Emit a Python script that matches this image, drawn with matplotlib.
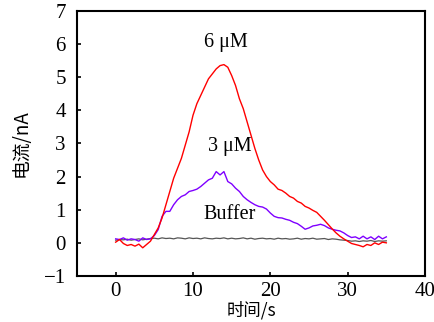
import numpy as np
import matplotlib
matplotlib.use("Agg")
import matplotlib.pyplot as plt

# time axis (s)
t = np.arange(0, 35.01, 0.5)

# current traces (nA)
red_6uM = [0.02, 0.10, -0.02, -0.08, -0.05, -0.10, -0.04, -0.15, -0.05, 0.05,
           0.25, 0.45, 0.75, 1.15, 1.55, 1.95, 2.25, 2.55, 2.95, 3.35,
           3.85, 4.20, 4.45, 4.70, 4.95, 5.10, 5.25, 5.35, 5.38, 5.30,
           5.05, 4.75, 4.35, 4.05, 3.65, 3.25, 2.85, 2.50, 2.20, 2.00,
           1.85, 1.75, 1.62, 1.58, 1.50, 1.40, 1.35, 1.25, 1.20, 1.10,
           1.05, 0.98, 0.92, 0.80, 0.68, 0.55, 0.42, 0.30, 0.20, 0.12,
           0.05, -0.02, -0.05, -0.08, -0.12, -0.05, -0.08, 0.00, -0.05, 0.02,
           0.00]

purple_3uM = [0.12, 0.10, 0.15, 0.08, 0.12, 0.10, 0.05, 0.15, 0.10, 0.12,
              0.22, 0.40, 0.80, 0.95, 0.95, 1.15, 1.30, 1.40, 1.45, 1.55,
              1.58, 1.62, 1.70, 1.80, 1.90, 1.95, 2.15, 2.05, 2.15, 1.85,
              1.78, 1.65, 1.55, 1.40, 1.30, 1.22, 1.15, 1.10, 1.08, 1.02,
              0.90, 0.80, 0.76, 0.75, 0.71, 0.68, 0.62, 0.58, 0.50, 0.41,
              0.45, 0.51, 0.53, 0.56, 0.52, 0.45, 0.41, 0.38, 0.36, 0.30,
              0.22, 0.16, 0.18, 0.12, 0.20, 0.12, 0.18, 0.10, 0.20, 0.12,
              0.18]

gray_buffer = [0.08, 0.10, 0.09, 0.11, 0.08, 0.10, 0.12, 0.09, 0.11, 0.13,
               0.14, 0.12, 0.15, 0.13, 0.14, 0.12, 0.15, 0.14, 0.12, 0.15,
               0.13, 0.14, 0.12, 0.15, 0.13, 0.12, 0.14, 0.13, 0.15, 0.12,
               0.14, 0.12, 0.13, 0.15, 0.12, 0.14, 0.11, 0.13, 0.14, 0.12,
               0.13, 0.11, 0.14, 0.12, 0.13, 0.11, 0.12, 0.14, 0.11, 0.13,
               0.12, 0.14, 0.11, 0.12, 0.13, 0.10, 0.12, 0.11, 0.09, 0.08,
               0.07, 0.05, 0.06, 0.04, 0.06, 0.05, 0.07, 0.04, 0.06, 0.05,
               0.06]

labels = ["6 μM", "3 μM", "Buffer"]
label_pos = [(14.2, 6.05), (14.7, 2.92), (14.7, 0.86)]

plt.rcParams['font.family'] = 'Liberation Serif'
plt.rcParams['axes.unicode_minus'] = True

fig = plt.figure(figsize=(4.35, 3.22), dpi=100)
ax = fig.add_axes([0.177, 0.143, 0.800, 0.823])

ax.plot(t, gray_buffer, color='#555555', lw=0.9)
ax.plot(t, purple_3uM, color='#7f00ff', lw=1.0)
ax.plot(t, red_6uM, color='#ff0000', lw=1.0)

for txt, (x, y) in zip(labels, label_pos):
    ax.text(x, y, txt, fontsize=14.5, ha='center', va='center')

ax.set_xlim(-5, 40)
ax.set_ylim(-1, 7)
ax.set_xticks([0, 10, 20, 30, 40])
ax.set_yticks(range(-1, 8))
ax.tick_params(direction='in', length=3, width=1.2, labelsize=15)
ax.tick_params(axis='y', pad=8)
ax.tick_params(axis='x', pad=4)
for s in ax.spines.values():
    s.set_linewidth(1.5)

cjk = ['Noto Sans CJK SC', 'DejaVu Sans']
ax.set_xlabel('时间/s', family=cjk, fontsize=12.5, labelpad=0)
ax.set_ylabel('电流/nA', family=cjk, fontsize=13.5, labelpad=9)

fig.savefig('out.png', dpi=100)
